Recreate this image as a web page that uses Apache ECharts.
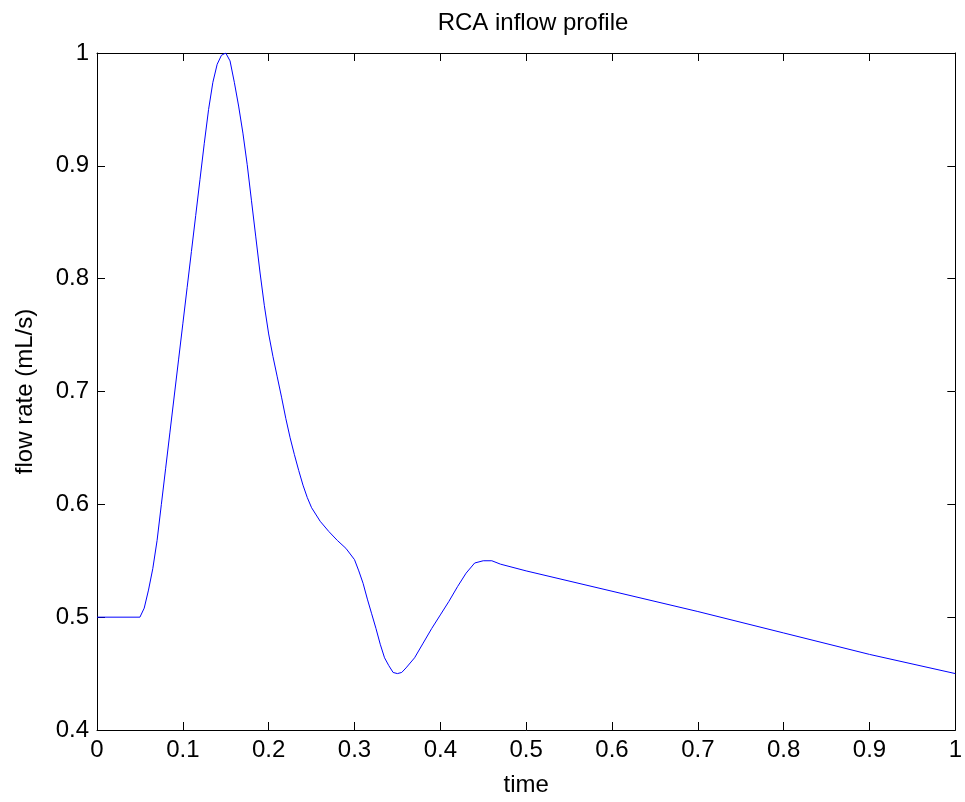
<!DOCTYPE html>
<html>
<head>
<meta charset="utf-8">
<script src="https://cdn.jsdelivr.net/npm/echarts@6/dist/echarts.min.js"></script>
<style>html,body{margin:0;padding:0;background:#fff;}#c{width:965px;height:802px;}</style>
</head>
<body>
<div id="c"></div>
<script>
var titleText = 'RCA inflow profile';
var xName = 'time';
var yName = 'flow rate (mL/s)';
var time = [0, 0.05, 0.055, 0.06, 0.065, 0.07, 0.075, 0.08, 0.085, 0.09, 0.095, 0.1, 0.105, 0.11, 0.115, 0.12, 0.125, 0.13, 0.135, 0.14, 0.145, 0.15, 0.155, 0.16, 0.165, 0.17, 0.175, 0.18, 0.185, 0.19, 0.195, 0.2, 0.205, 0.21, 0.215, 0.22, 0.225, 0.23, 0.235, 0.24, 0.245, 0.25, 0.26, 0.27, 0.28, 0.29, 0.3, 0.305, 0.31, 0.315, 0.32, 0.325, 0.33, 0.335, 0.34, 0.345, 0.35, 0.355, 0.36, 0.37, 0.38, 0.39, 0.4, 0.41, 0.42, 0.43, 0.44, 0.45, 0.46, 0.47, 0.5, 0.6, 0.7, 0.8, 0.9, 1.0];
var flow = [0.5, 0.5, 0.508, 0.524, 0.543, 0.568, 0.6, 0.632, 0.664, 0.696, 0.728, 0.76, 0.792, 0.824, 0.856, 0.888, 0.92, 0.95, 0.974, 0.99, 0.998, 1.0, 0.993, 0.974, 0.953, 0.929, 0.901, 0.869, 0.837, 0.805, 0.776, 0.751, 0.731, 0.713, 0.695, 0.676, 0.659, 0.644, 0.63, 0.617, 0.606, 0.597, 0.585, 0.576, 0.568, 0.561, 0.551, 0.541, 0.53, 0.516, 0.503, 0.49, 0.476, 0.464, 0.457, 0.451, 0.45, 0.451, 0.455, 0.464, 0.477, 0.49, 0.502, 0.514, 0.527, 0.539, 0.548, 0.55, 0.55, 0.547, 0.541, 0.523, 0.505, 0.486, 0.467, 0.45];

var pts = time.map(function (t, i) { return [t, flow[i]]; });
var font = 'Liberation Sans, Arial, sans-serif';
var lineStyle = { color: '#000', width: 1 };
function axisBase(extra) {
  var a = {
    type: 'value',
    axisLine: { show: true, onZero: false, lineStyle: lineStyle },
    axisTick: { show: true, inside: true, length: 8, lineStyle: lineStyle },
    splitLine: { show: false },
    axisLabel: { color: '#000', fontSize: 24, fontFamily: font, margin: 8 }
  };
  for (var k in extra) a[k] = extra[k];
  return a;
}
var chart = echarts.init(document.getElementById('c'), null, { renderer: 'canvas' });
chart.setOption({
  animation: false,
  backgroundColor: '#fff',
  title: { text: titleText, left: 528, textAlign: 'center', top: 6,
    textStyle: { color: '#000', fontSize: 24, fontWeight: 'normal', fontFamily: font } },
  grid: { left: 97, right: 6, top: 53, bottom: 69 },
  xAxis: [
    axisBase({ position: 'bottom', min: 0, max: 1, interval: 0.1,
      name: xName, nameLocation: 'middle', nameGap: 43,
      nameTextStyle: { color: '#000', fontSize: 24, fontFamily: font } }),
    axisBase({ position: 'top', min: 0, max: 1, interval: 0.1, axisLabel: { show: false } })
  ],
  yAxis: [
    axisBase({ position: 'left', min: 0.4, max: 1, interval: 0.1,
      name: yName, nameLocation: 'middle', nameGap: 60,
      nameTextStyle: { color: '#000', fontSize: 24, fontFamily: font } }),
    axisBase({ position: 'right', min: 0.4, max: 1, interval: 0.1, axisLabel: { show: false } })
  ],
  series: [{
    type: 'line', data: pts, showSymbol: false, symbol: 'none',
    lineStyle: { color: '#0000ff', width: 1 }, xAxisIndex: 0, yAxisIndex: 0
  }]
});
</script>
</body>
</html>
